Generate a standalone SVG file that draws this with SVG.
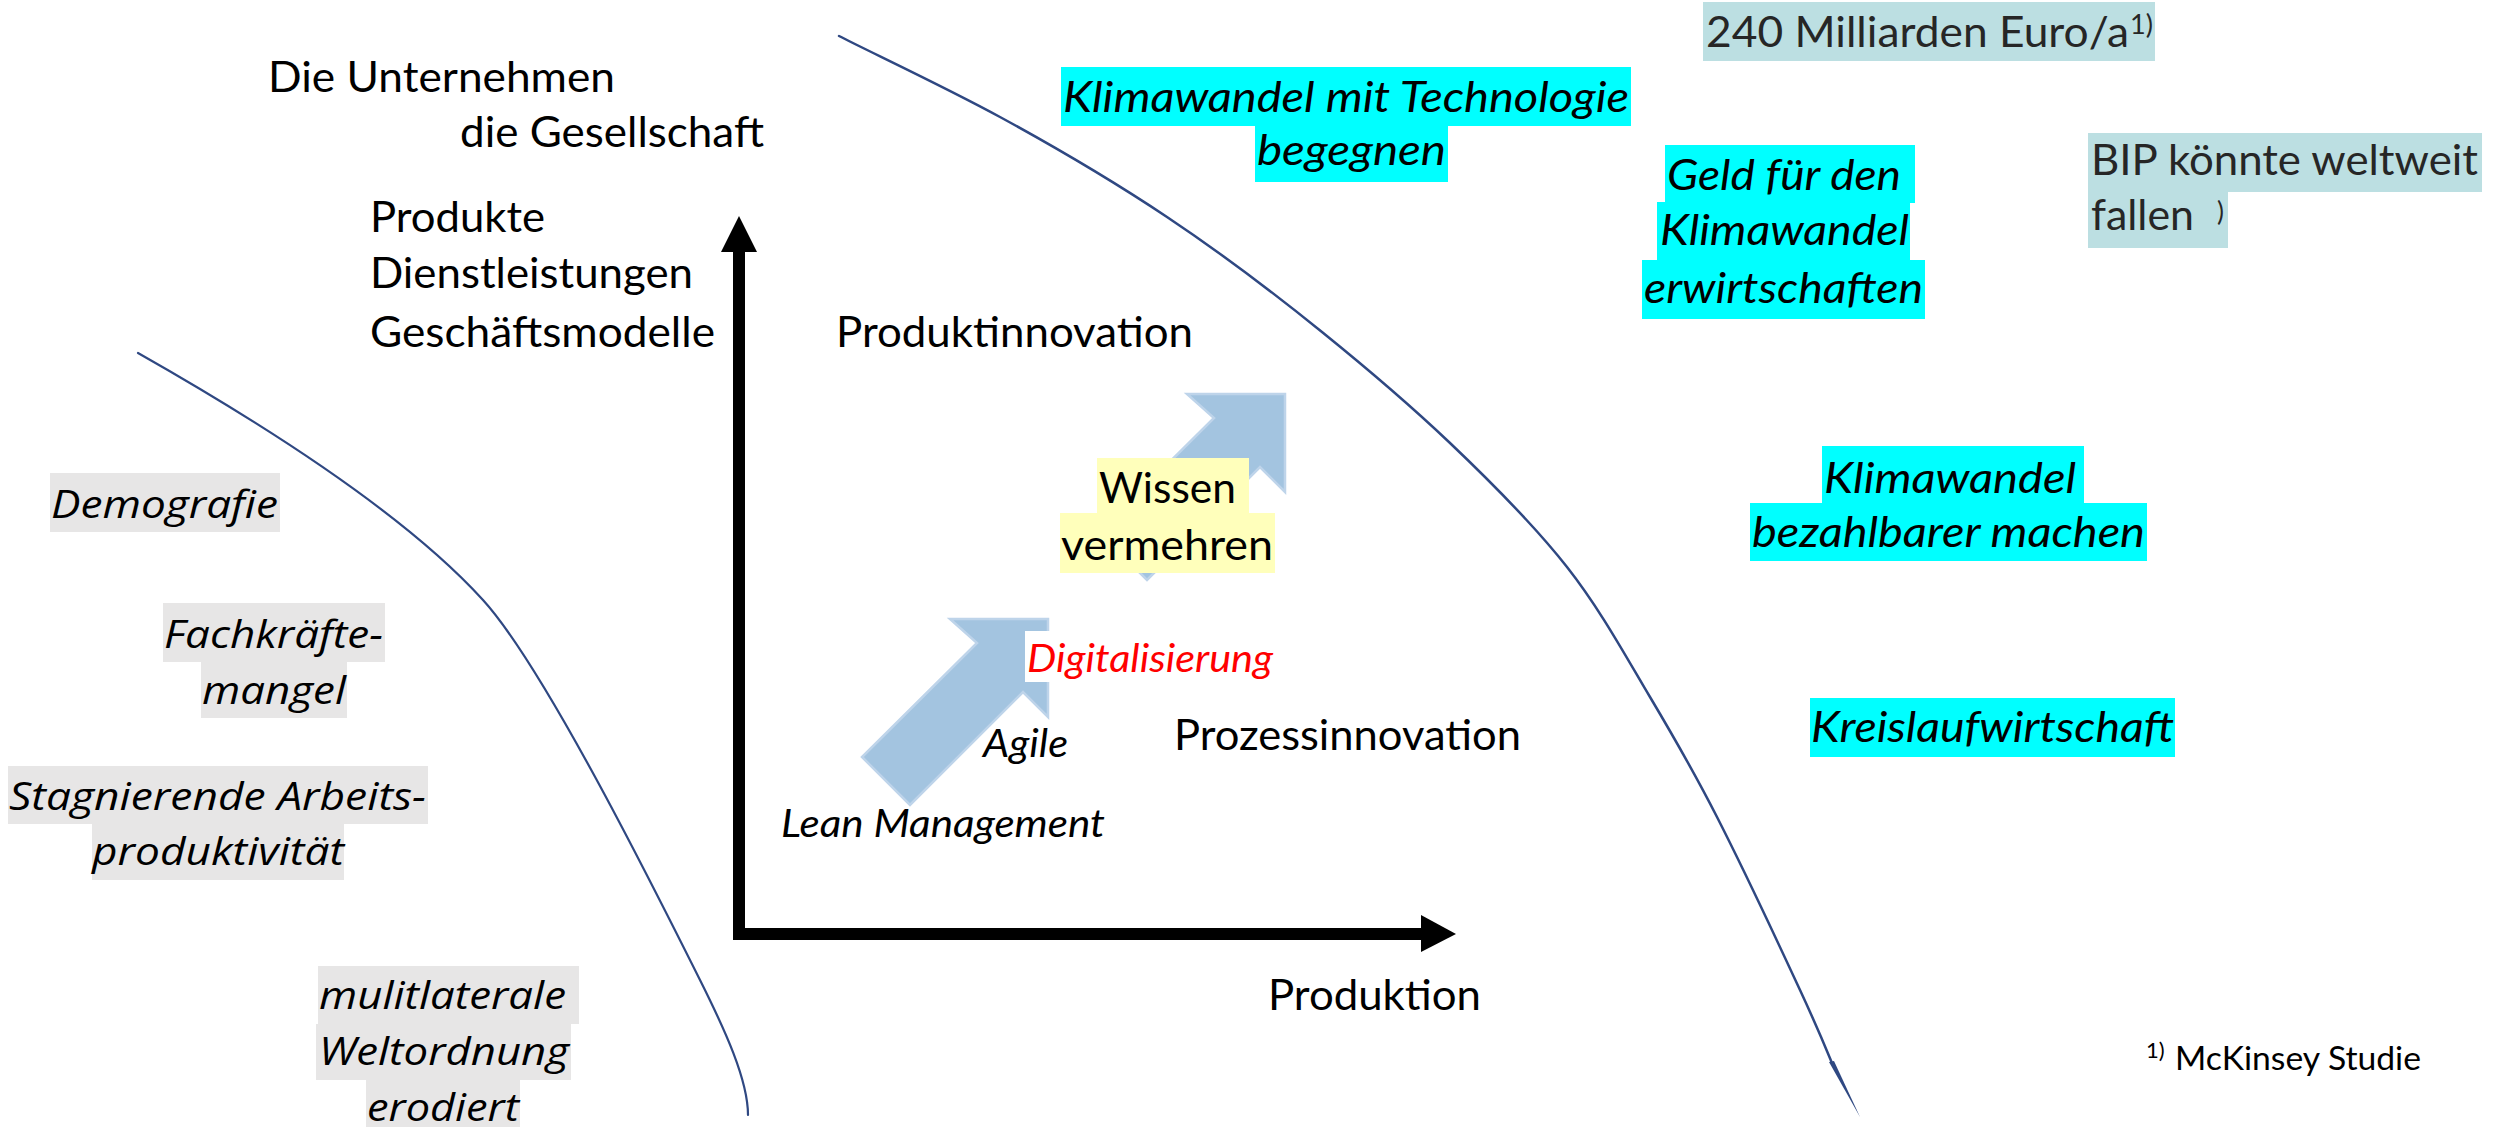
<svg xmlns="http://www.w3.org/2000/svg" width="2501" height="1127" viewBox="0 0 2501 1127">
<style>
.t{font-family:Lato,"Liberation Sans",sans-serif;font-size:43px;fill:#000}
.ti{font-family:Lato,"Liberation Sans",sans-serif;font-style:italic;font-size:43px;fill:#000}
.tis{font-family:Lato,"Liberation Sans",sans-serif;font-style:italic;font-size:38px;fill:#000}
.si{font-family:"Open Sans","Noto Sans",sans-serif;font-style:italic;font-size:39px;fill:#000}
.dg{fill:#262626}
.sup{font-family:Lato,"Liberation Sans",sans-serif;font-size:26px;fill:#262626}
.cyan{fill:#00FFFF}
.grey{fill:#E7E6E6}
.teal{fill:#BCDFE2}
.yel{fill:#FFFFBB}
.curve{fill:none;stroke:#2F4882;stroke-width:2.5;stroke-linecap:round}
.barrow{fill:#A3C4E0;stroke:#BED4EA;stroke-width:2.5;stroke-linejoin:miter}
.axis{fill:#000}
</style>
<rect width="2501" height="1127" fill="#fff"/>

<g id="connectors">
  <path class="curve" d="M839,36 C866,50 945,87 1000,117 C1055,147 1113,181 1167,217 C1221,253 1275,294 1322,332 C1369,370 1409,404 1450,443 C1491,482 1534,525 1567,567 C1600,609 1625,655 1650,697 C1675,739 1692,768 1717,817 C1742,866 1781,949 1800,990 C1819,1031 1827,1051 1832,1063"/>
  <polygon fill="#2F4882" points="1829,1062 1834,1061 1860,1117"/>
  <path class="curve" style="stroke-width:2.2" d="M138,353 C258,421 403,512 483,600 C543,666 650,880 700,980 C725,1030 748,1080 748,1115"/>
  <rect class="axis" x="733" y="250" width="12" height="690"/>
  <polygon class="axis" points="721,252 757,252 739,216"/>
  <rect class="axis" x="733" y="928" width="690" height="12"/>
  <polygon class="axis" points="1421,915 1421,952 1456,934"/>
</g>

<g id="growth-arrows">
  <polygon class="barrow" points="1048,619 1048,717 1023,692 910,805 862,757 977,643 950,619"/>
  <polygon class="barrow" points="1285,394 1285,492 1260,467 1147,580 1099,532 1214,418 1187,394"/>
</g>

<g id="n-unternehmen"><text class="t" x="268" y="92" textLength="347" lengthAdjust="spacingAndGlyphs">Die Unternehmen</text></g>
<g id="n-gesellschaft"><text class="t" x="460" y="147" textLength="304" lengthAdjust="spacingAndGlyphs">die Gesellschaft</text></g>
<g id="n-produkte">
  <text class="t" x="370" y="232" textLength="175" lengthAdjust="spacingAndGlyphs">Produkte</text>
  <text class="t" x="370" y="288" textLength="323" lengthAdjust="spacingAndGlyphs">Dienstleistungen</text>
  <text class="t" x="370" y="347" textLength="345" lengthAdjust="spacingAndGlyphs">Geschäftsmodelle</text>
</g>
<g id="n-produktinnovation"><text class="t" x="836" y="347" textLength="357" lengthAdjust="spacingAndGlyphs">Produktinnovation</text></g>
<g id="n-prozessinnovation"><text class="t" x="1174" y="750" textLength="347" lengthAdjust="spacingAndGlyphs">Prozessinnovation</text></g>
<g id="n-produktion"><text class="t" x="1268" y="1010" textLength="213" lengthAdjust="spacingAndGlyphs">Produktion</text></g>

<g id="n-wissen">
  <rect class="yel" x="1097" y="458" width="152" height="56"/>
  <rect class="yel" x="1060" y="513" width="215" height="60"/>
  <text class="t" x="1099" y="503" textLength="137" lengthAdjust="spacingAndGlyphs">Wissen</text>
  <text class="t" x="1061" y="560" textLength="212" lengthAdjust="spacingAndGlyphs">vermehren</text>
</g>
<g id="n-digitalisierung">
  <rect fill="#fff" x="1025" y="631" width="250" height="51"/>
  <text class="tis" style="fill:#FF0000" x="1027" y="672" textLength="246" lengthAdjust="spacingAndGlyphs">Digitalisierung</text>
</g>
<g id="n-agile"><text class="tis" x="983" y="757" textLength="85" lengthAdjust="spacingAndGlyphs">Agile</text></g>
<g id="n-lean"><text class="tis" x="781" y="837" textLength="324" lengthAdjust="spacingAndGlyphs">Lean Management</text></g>

<g id="n-klima-technologie">
  <rect class="cyan" x="1061" y="67" width="570" height="59"/>
  <rect class="cyan" x="1255" y="126" width="193" height="56"/>
  <text class="ti" x="1063" y="112" textLength="566" lengthAdjust="spacingAndGlyphs">Klimawandel mit Technologie</text>
  <text class="ti" x="1257" y="165" textLength="189" lengthAdjust="spacingAndGlyphs">begegnen</text>
</g>
<g id="n-geld">
  <rect class="cyan" x="1665" y="145" width="250" height="58"/>
  <rect class="cyan" x="1657" y="202" width="253" height="58"/>
  <rect class="cyan" x="1642" y="260" width="283" height="59"/>
  <text class="ti" x="1667" y="190" textLength="234" lengthAdjust="spacingAndGlyphs">Geld für den</text>
  <text class="ti" x="1660" y="245" textLength="249" lengthAdjust="spacingAndGlyphs">Klimawandel</text>
  <text class="ti" x="1644" y="303" textLength="279" lengthAdjust="spacingAndGlyphs">erwirtschaften</text>
</g>
<g id="n-bezahlbar">
  <rect class="cyan" x="1822" y="446" width="262" height="57"/>
  <rect class="cyan" x="1750" y="503" width="397" height="58"/>
  <text class="ti" x="1824" y="493" textLength="252" lengthAdjust="spacingAndGlyphs">Klimawandel</text>
  <text class="ti" x="1752" y="547" textLength="393" lengthAdjust="spacingAndGlyphs">bezahlbarer machen</text>
</g>
<g id="n-kreislauf">
  <rect class="cyan" x="1810" y="698" width="365" height="59"/>
  <text class="ti" x="1811" y="742" textLength="363" lengthAdjust="spacingAndGlyphs">Kreislaufwirtschaft</text>
</g>

<g id="n-240">
  <rect class="teal" x="1703" y="2" width="452" height="59"/>
  <text class="t dg" x="1706" y="47" textLength="423" lengthAdjust="spacingAndGlyphs">240 Milliarden Euro/a</text>
  <text class="sup" x="2130" y="34" textLength="23" lengthAdjust="spacingAndGlyphs">1)</text>
</g>
<g id="n-bip">
  <rect class="teal" x="2088" y="133" width="394" height="59"/>
  <rect class="teal" x="2088" y="192" width="140" height="56"/>
  <text class="t dg" x="2091" y="175" textLength="387" lengthAdjust="spacingAndGlyphs">BIP könnte weltweit</text>
  <text class="t dg" x="2091" y="230" textLength="103" lengthAdjust="spacingAndGlyphs">fallen</text>
  <text class="sup" x="2217" y="221">)</text>
</g>
<g id="n-mckinsey">
  <text class="sup" style="font-size:22px;fill:#000" x="2146" y="1058">1)</text>
  <text class="t" style="font-size:33px" x="2175" y="1070" textLength="246" lengthAdjust="spacingAndGlyphs">McKinsey Studie</text>
</g>

<g id="n-demografie">
  <rect class="grey" x="50" y="473" width="230" height="59"/>
  <text class="si" x="51" y="518" textLength="227" lengthAdjust="spacingAndGlyphs">Demografie</text>
</g>
<g id="n-fachkraefte">
  <rect class="grey" x="163" y="603" width="222" height="59"/>
  <rect class="grey" x="201" y="662" width="146" height="56"/>
  <text class="si" x="164" y="648" textLength="219" lengthAdjust="spacingAndGlyphs">Fachkräfte-</text>
  <text class="si" x="202" y="704" textLength="144" lengthAdjust="spacingAndGlyphs">mangel</text>
</g>
<g id="n-stagnierend">
  <rect class="grey" x="8" y="766" width="420" height="58"/>
  <rect class="grey" x="92" y="824" width="252" height="56"/>
  <text class="si" x="9" y="810" textLength="417" lengthAdjust="spacingAndGlyphs">Stagnierende Arbeits-</text>
  <text class="si" x="92" y="865" textLength="252" lengthAdjust="spacingAndGlyphs">produktivität</text>
</g>
<g id="n-weltordnung">
  <rect class="grey" x="318" y="966" width="261" height="58"/>
  <rect class="grey" x="316" y="1024" width="255" height="56"/>
  <rect class="grey" x="366" y="1080" width="154" height="47"/>
  <text class="si" x="319" y="1009" textLength="247" lengthAdjust="spacingAndGlyphs">mulitlaterale</text>
  <text class="si" x="319" y="1065" textLength="250" lengthAdjust="spacingAndGlyphs">Weltordnung</text>
  <text class="si" x="367" y="1121" textLength="152" lengthAdjust="spacingAndGlyphs">erodiert</text>
</g>
</svg>
